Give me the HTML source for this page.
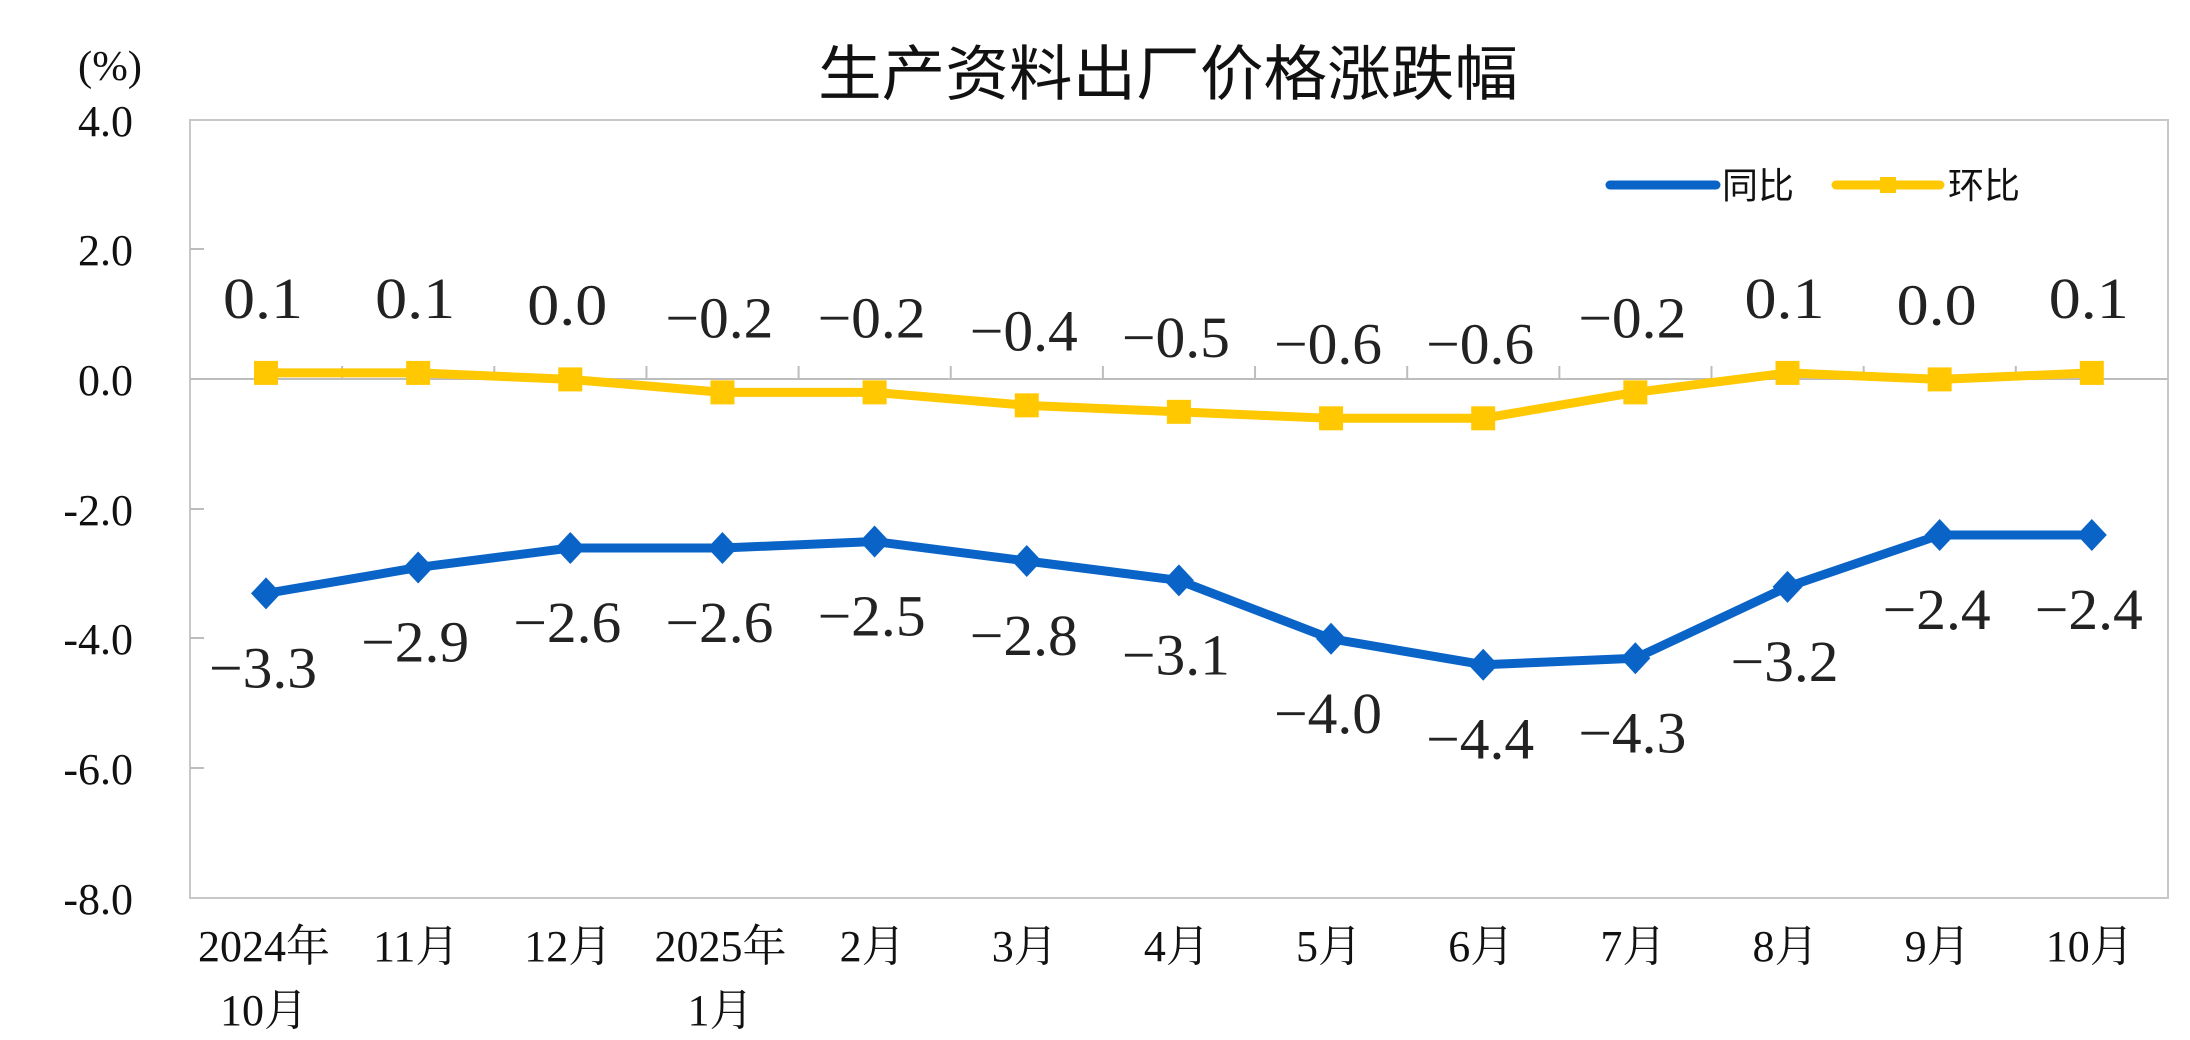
<!DOCTYPE html>
<html><head><meta charset="utf-8"><style>html,body{margin:0;padding:0;background:#fff}svg{display:block}</style></head>
<body>
<svg width="2190" height="1040" viewBox="0 0 2190 1040" xmlns="http://www.w3.org/2000/svg">
<rect width="2190" height="1040" fill="#fff"/>
<text x="1168" y="95" font-family="'Liberation Sans','Noto Sans CJK SC',sans-serif" font-size="60" text-anchor="middle" fill="#111" textLength="700" lengthAdjust="spacingAndGlyphs">生产资料出厂价格涨跌幅</text>
<text x="110" y="80" font-family="'Liberation Serif',serif" font-size="42" text-anchor="middle" fill="#111" textLength="64" lengthAdjust="spacingAndGlyphs">(%)</text>
<rect x="190" y="120" width="1978" height="778" fill="none" stroke="#c8c8c8" stroke-width="2"/>
<line x1="190" y1="379" x2="2168" y2="379" stroke="#bdbdbd" stroke-width="2"/>
<g stroke="#bdbdbd" stroke-width="2">
<line x1="190" y1="249" x2="204" y2="249"/><line x1="190" y1="509" x2="204" y2="509"/><line x1="190" y1="638" x2="204" y2="638"/><line x1="190" y1="768" x2="204" y2="768"/>
</g>
<g id="ticks" stroke="#bdbdbd" stroke-width="2"></g>
<g font-family="'Liberation Serif',serif" font-size="44" text-anchor="end" fill="#111">
<text x="133" y="136">4.0</text><text x="133" y="265">2.0</text><text x="133" y="395">0.0</text><text x="133" y="525">-2.0</text><text x="133" y="654">-4.0</text><text x="133" y="784">-6.0</text><text x="133" y="914">-8.0</text>
</g>
<g id="xl" font-family="'Liberation Serif','Noto Serif CJK SC',serif" font-size="44" text-anchor="middle" fill="#111" font-weight="bold"></g>
<g id="series"></g>
<g font-family="'Liberation Sans','Noto Sans CJK SC',sans-serif" font-size="36" fill="#111">
<line x1="1610" y1="185" x2="1716" y2="185" stroke="#0a64c8" stroke-width="9" stroke-linecap="round"/>
<text x="1722" y="198">同比</text>
<line x1="1836" y1="185" x2="1940" y2="185" stroke="#ffc800" stroke-width="9" stroke-linecap="round"/>
<rect x="1880" y="177" width="16" height="16" fill="#ffc800"/>
<text x="1948" y="198">环比</text>
</g>
<script>
var ns="http://www.w3.org/2000/svg";
function el(t,a,p){var e=document.createElementNS(ns,t);for(var k in a)e.setAttribute(k,a[k]);p.appendChild(e);return e;}
var Y=function(v){return 379.4-v*64.85;};
var X=function(i){return 266+152.15*i;};
var tk=document.getElementById('ticks');
for(var k=1;k<13;k++){var x=190+152.15*k;el('line',{x1:x,y1:366,x2:x,y2:379},tk);}
var xl=document.getElementById('xl');
var labs=[["2024年","10月"],["11月"],["12月"],["2025年","1月"],["2月"],["3月"],["4月"],["5月"],["6月"],["7月"],["8月"],["9月"],["10月"]];
labs.forEach(function(l,i){l.forEach(function(s,j){var t=el('text',{x:X(i)-2,y:961+j*64,"font-weight":"normal"},xl);t.textContent=s;});});
var hb=[0.1,0.1,0.0,-0.2,-0.2,-0.4,-0.5,-0.6,-0.6,-0.2,0.1,0.0,0.1];
var tb=[-3.3,-2.9,-2.6,-2.6,-2.5,-2.8,-3.1,-4.0,-4.4,-4.3,-3.2,-2.4,-2.4];
var g=document.getElementById('series');
function pts(a){return a.map(function(v,i){return X(i)+","+Y(v);}).join(" ");}
el('polyline',{points:pts(hb),fill:"none",stroke:"#ffc800","stroke-width":9,"stroke-linejoin":"round"},g);
hb.forEach(function(v,i){el('rect',{x:X(i)-12,y:Y(v)-12,width:24,height:24,fill:"#ffc800"},g);});
el('polyline',{points:pts(tb),fill:"none",stroke:"#0a64c8","stroke-width":9,"stroke-linejoin":"round"},g);
tb.forEach(function(v,i){var x=X(i),y=Y(v);el('polygon',{points:(x)+","+(y-16)+" "+(x+15)+","+y+" "+x+","+(y+16)+" "+(x-15)+","+y,fill:"#0a64c8"},g);});
function fmt(v){var s=Math.abs(v).toFixed(1);return (v<0?"\u2212":"")+s;}
function lab(v,x,y){var t=el('text',{x:x,y:y,"font-family":"'Liberation Serif',serif","font-size":58,"text-anchor":"middle",fill:"#222",textLength:(v<0?108:80),lengthAdjust:"spacingAndGlyphs"},g);t.textContent=fmt(v);}
hb.forEach(function(v,i){lab(v,X(i)-3,Y(v)-55);});
tb.forEach(function(v,i){lab(v,X(i)-3,Y(v)+94);});
</script>
</svg>
</body></html>
